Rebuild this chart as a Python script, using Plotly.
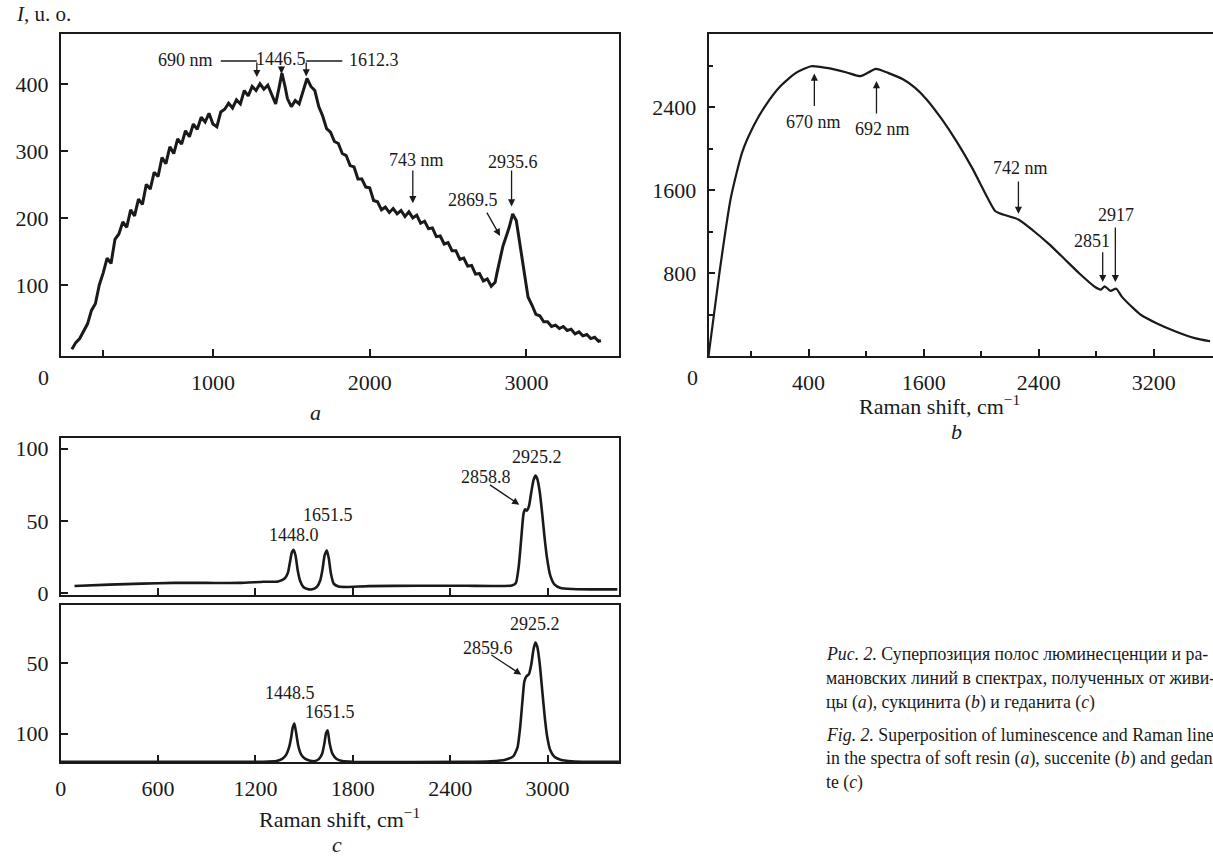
import plotly.graph_objects as go

W, H = 1213, 861
FONT = "Liberation Serif"
INK = "#1a1a1a"

# ---------------- data ----------------
# (a) soft resin: noisy luminescence + Raman spectrum
a_shift = [100, 125, 150, 175, 200, 225, 250, 275, 300, 325, 350, 375, 400, 425, 450, 475,
           500, 525, 550, 575, 600, 625, 650, 675, 700, 725, 750, 775, 800, 825, 850, 875,
           900, 925, 950, 975, 1000, 1025, 1050, 1075, 1100, 1125, 1150, 1175, 1200, 1225,
           1250, 1275, 1300, 1325, 1350, 1375, 1400, 1420, 1440, 1460, 1475, 1500, 1525,
           1550, 1575, 1600, 1625, 1650, 1675, 1700, 1725, 1750, 1775, 1800, 1825, 1850,
           1875, 1900, 1925, 1950, 1975, 2000, 2025, 2050, 2075, 2100, 2125, 2150, 2175,
           2200, 2225, 2250, 2275, 2300, 2325, 2350, 2375, 2400, 2425, 2450, 2475, 2500,
           2525, 2550, 2575, 2600, 2625, 2650, 2675, 2700, 2725, 2750, 2775, 2800, 2812,
           2825, 2850, 2870, 2890, 2912, 2935, 2960, 2985, 3010, 3035, 3060, 3085, 3110,
           3135, 3160, 3185, 3210, 3235, 3260, 3285, 3310, 3335, 3360, 3385, 3410, 3435,
           3460, 3475]
a_int = [4, 14, 20, 30, 42, 62, 72, 100, 118, 140, 132, 168, 176, 194, 186, 212,
         203, 228, 220, 250, 243, 268, 262, 290, 281, 306, 296, 318, 310, 330, 321, 340,
         332, 350, 343, 356, 340, 336, 358, 362, 371, 364, 376, 370, 390, 382,
         396, 390, 400, 392, 398, 384, 370, 392, 416, 396, 378, 366, 375,
         370, 388, 408, 396, 390, 366, 352, 333, 328, 314, 311, 296, 293,
         278, 276, 258, 258, 246, 245, 226, 224, 212, 216, 208, 214, 206,
         211, 202, 209, 200, 204, 192, 195, 184, 185, 172, 173, 161, 163,
         151, 151, 138, 140, 128, 129, 116, 117, 106, 109, 98, 104, 118,
         132, 158, 172, 186, 206, 196, 158, 118, 82, 70, 56, 54, 45,
         45, 38, 40, 35, 38, 32, 34, 27, 30, 24, 26, 20, 22,
         16, 17]

# (b) succenite
b_shift = [104, 179, 259, 339, 419, 499, 605, 712, 819, 925, 1059, 1160, 1219, 1267,
           1352, 1459, 1539, 1619, 1725, 1832, 1939, 2045, 2099, 2152, 2259, 2365, 2472,
           2579, 2685, 2792, 2832, 2859, 2899, 2939, 2979, 3059, 3112, 3219, 3352, 3485,
           3592]
b_int = [0, 794, 1525, 1971, 2225, 2416, 2607, 2734, 2798, 2782, 2740, 2702, 2740, 2772,
         2734, 2670, 2591, 2480, 2289, 2066, 1812, 1525, 1398, 1366, 1318, 1207, 1080,
         937, 794, 666, 641, 673, 628, 650, 571, 460, 396, 317, 237, 173,
         142]

# (c) gedanite, upper trace
c1_shift = [85, 300, 500, 700, 900, 1100, 1250, 1340, 1380, 1400, 1412, 1424, 1435, 1447,
            1460, 1475, 1495, 1520, 1550, 1580, 1600, 1614, 1626, 1640, 1652, 1664, 1682,
            1712, 1760, 1900, 2200, 2500, 2780, 2805, 2822, 2838, 2852, 2862, 2872, 2885,
            2900, 2913, 2925, 2937, 2952, 2967, 2982, 2997, 3017, 3042, 3080, 3150, 3300,
            3430]
c1_int = [4.9, 5.8, 6.5, 7.0, 7.0, 7.0, 7.8, 8.0, 10, 14, 21, 28, 30, 26, 16, 8.5, 4.2,
          2.8, 2.6, 4.5, 9, 17, 26, 29.5, 24, 14, 6.5, 4.5, 4.2, 4.8, 5.0, 5.0, 5.2, 7,
          18, 38, 55, 58, 57, 60, 70, 78, 81.3, 79, 70, 55, 38, 24, 12, 6, 3.5, 2.8, 2.5,
          2.5]

# (c) gedanite, lower trace
c2_shift = [0, 1250, 1330, 1365, 1390, 1407, 1420, 1430, 1440, 1451, 1464, 1482, 1507,
            1537, 1567, 1592, 1612, 1625, 1635, 1645, 1657, 1675, 1700, 1735, 1800, 2500,
            2650, 2740, 2790, 2815, 2832, 2845, 2857, 2870, 2885, 2900, 2913, 2925, 2937,
            2952, 2967, 2982, 2997, 3017, 3042, 3080, 3150, 3250, 3440]
c2_int = [0, 0, 0.5, 2, 5, 10, 17, 24, 26.7, 20, 11, 5, 2, 0.8, 0.5, 2, 6, 13, 20, 21.9,
          13, 5.5, 2, 0.5, 0, 0, 0.4, 1.5, 4, 10, 25, 42, 56, 59.6, 61, 68, 78, 83, 80,
          68, 50, 32, 18, 8, 3.5, 1.5, 0.4, 0, 0]

# tick values / labels
a_xticks = [1000, 2000, 3000]
a_xminor = [300]
a_yticks = [100, 200, 300, 400]
b_xticks = [800, 1600, 2400, 3200]
b_xticktext = ["400", "1600", "2400", "3200"]
b_xminor = [400, 1200, 2000, 2800]
b_yticks = [800, 1600, 2400]
b_yminor = [400, 1200, 2000, 2800]
c_xticks = [0, 600, 1200, 1800, 2400, 3000]
c1_yticks = [0, 50, 100]
c2_yticks = [19.7, 68.7]
c2_yticktext = ["100", "50"]


def px(x):
    return x / W


def py(y):
    return 1 - y / H


fig = go.Figure()
fig.add_trace(go.Scatter(x=a_shift, y=a_int, mode="lines", line=dict(color=INK, width=3.0),
                         xaxis="x", yaxis="y", showlegend=False))
fig.add_trace(go.Scatter(x=b_shift, y=b_int, mode="lines",
                         line=dict(color=INK, width=2.2, shape="spline", smoothing=0.6),
                         xaxis="x2", yaxis="y2", showlegend=False))
fig.add_trace(go.Scatter(x=c1_shift, y=c1_int, mode="lines",
                         line=dict(color=INK, width=2.6, shape="spline", smoothing=0.5),
                         xaxis="x3", yaxis="y3", showlegend=False))
fig.add_trace(go.Scatter(x=c2_shift, y=c2_int, mode="lines",
                         line=dict(color=INK, width=2.6, shape="spline", smoothing=0.5),
                         xaxis="x4", yaxis="y4", showlegend=False))

tickfont = dict(family=FONT, size=22, color=INK)
base = dict(showline=True, linecolor=INK, linewidth=1.6, ticks="inside", ticklen=7,
            tickwidth=1.5, tickcolor=INK, showgrid=False, zeroline=False,
            tickfont=tickfont, fixedrange=True)

fig.update_layout(
    width=W, height=H, margin=dict(l=0, r=0, t=0, b=0),
    paper_bgcolor="white", plot_bgcolor="white",
    xaxis=dict(base, domain=[px(55), px(616)], range=[29, 3590], mirror=True,
               tickmode="array", tickvals=a_xticks, ticklabelstandoff=6,
               minor=dict(tickvals=a_xminor, ticks="inside", ticklen=6, tickcolor=INK),
               anchor="y"),
    yaxis=dict(base, domain=[py(360), py(33)], range=[-6, 475], mirror=True,
               tickmode="array", tickvals=a_yticks, ticklabelstandoff=6, anchor="x"),
    xaxis2=dict(base, domain=[px(706), 1.0], range=[104, 3612], mirror=True,
                tickmode="array", tickvals=b_xticks, ticktext=b_xticktext,
                ticklabelstandoff=6,
                minor=dict(tickvals=b_xminor, ticks="inside", ticklen=5, tickcolor=INK),
                anchor="y2"),
    yaxis2=dict(base, domain=[py(360), py(33)], range=[0, 3114], mirror=False,
                tickmode="array", tickvals=b_yticks, ticklabelstandoff=6,
                minor=dict(tickvals=b_yminor, ticks="inside", ticklen=5, tickcolor=INK),
                anchor="x2"),
    xaxis3=dict(base, domain=[px(55), px(616)], range=[0, 3440], mirror=True,
                tickmode="array", tickvals=c_xticks, showticklabels=False, anchor="y3"),
    yaxis3=dict(base, domain=[py(602), py(443)], range=[-1.1, 107.5], mirror=True,
                tickmode="array", tickvals=c1_yticks, ticklabelstandoff=6, anchor="x3"),
    xaxis4=dict(base, domain=[px(55), px(616)], range=[0, 3440], mirror=True,
                tickmode="array", tickvals=c_xticks, ticklabelstandoff=6, anchor="y4"),
    yaxis4=dict(base, domain=[py(772), py(613)], range=[-0.3, 108.9], mirror=True,
                tickmode="array", tickvals=c2_yticks, ticktext=c2_yticktext,
                ticklabelstandoff=6, anchor="x4"),
)

ann = []
shapes = []


def text(t, x, y, xref, yref, size=18, xanchor="center", yanchor="middle", **kw):
    d = dict(text=t, x=x, y=y, xref=xref, yref=yref, showarrow=False,
             xanchor=xanchor, yanchor=yanchor,
             font=dict(family=FONT, size=size, color=INK))
    d.update(kw)
    ann.append(d)


def arrow(x0, y0, x1, y1, xr, yr):
    ann.append(dict(text="", x=x1, y=y1, ax=x0, ay=y0, xref=xr, yref=yr, axref=xr, ayref=yr,
                    showarrow=True, arrowhead=2, arrowsize=1.1, arrowwidth=1.3,
                    arrowcolor=INK, standoff=0, startstandoff=0))


def hline(x0, x1, y, xr, yr):
    shapes.append(dict(type="line", x0=x0, x1=x1, y0=y, y1=y, xref=xr, yref=yr,
                       line=dict(color=INK, width=1.3)))


# panel a labels
text("690 nm", 825, 435, "x", "y")
hline(1050, 1280, 434, "x", "y")
arrow(1280, 434, 1280, 410, "x", "y")
text("1446.5", 1437, 437, "x", "y")
arrow(1437, 428, 1437, 415, "x", "y")
text("1612.3", 2025, 435, "x", "y")
hline(1825, 1595, 434, "x", "y")
arrow(1595, 434, 1595, 411, "x", "y")
text("743 nm", 2300, 286, "x", "y")
arrow(2275, 273, 2275, 222, "x", "y")
text("2935.6", 2912, 283, "x", "y")
arrow(2905, 273, 2905, 217, "x", "y")
text("2869.5", 2662, 227, "x", "y")
arrow(2742, 210, 2832, 173, "x", "y")

# panel b labels
text("670 nm", 832, 2263, "x2", "y2")
arrow(840, 2400, 840, 2728, "x2", "y2")
text("692 nm", 1312, 2193, "x2", "y2")
arrow(1272, 2327, 1272, 2655, "x2", "y2")
text("742 nm", 2272, 1818, "x2", "y2")
arrow(2259, 1700, 2259, 1373, "x2", "y2")
text("2851", 2773, 1112, "x2", "y2")
arrow(2845, 1016, 2845, 714, "x2", "y2")
text("2917", 2939, 1366, "x2", "y2")
arrow(2933, 1255, 2933, 714, "x2", "y2")

# panel c upper labels
text("1651.5", 1646, 53.9, "x3", "y3")
text("1448.0", 1439, 40.2, "x3", "y3")
text("2925.2", 2935, 94.3, "x3", "y3")
text("2858.8", 2619, 80.2, "x3", "y3")
arrow(2636, 75.6, 2826, 61.2, "x3", "y3")

# panel c lower labels
text("1448.5", 1415, 48.2, "x4", "y4")
text("1651.5", 1658, 34.5, "x4", "y4")
text("2925.2", 2923, 96.1, "x4", "y4")
text("2859.6", 2633, 79, "x4", "y4")
arrow(2645, 75.1, 2838, 60.7, "x4", "y4")

# axis titles, corner zeros, panel letters
text("<i>I</i>, u. o.", px(8), py(13), "paper", "paper", size=21, xanchor="left")
text("0", px(38), py(382), "paper", "paper", size=22)
text("0", px(690), py(382), "paper", "paper", size=22)
text("<i>a</i>", px(311), py(417), "paper", "paper", size=22)
text("Raman shift, cm<sup>\u22121</sup>", px(938), py(410), "paper", "paper", size=22)
text("<i>b</i>", px(955), py(437), "paper", "paper", size=22)
text("Raman shift, cm<sup>\u22121</sup>", px(335), py(829), "paper", "paper", size=22)
text("<i>c</i>", px(333), py(855), "paper", "paper", size=22)

# caption
cap = [
    "<i>Рис. 2.</i> Суперпозиция полос люминесценции и ра-",
    "мановских линий в спектрах, полученных от живи-",
    "цы (<i>a</i>), сукцинита (<i>b</i>) и геданита (<i>c</i>)",
    "<i>Fig. 2.</i> Superposition of luminescence and Raman lines",
    "in the spectra of soft resin (<i>a</i>), succenite (<i>b</i>) and gedani-",
    "te (<i>c</i>)",
]
cap_y = [662, 687, 711, 744, 768, 793]
for t, y in zip(cap, cap_y):
    text(t, px(822), py(y), "paper", "paper", size=17.8, xanchor="left")

fig.update_layout(annotations=ann, shapes=shapes)
fig.write_html("out.html", config={"displayModeBar": False},
               post_script="document.body.style.margin='0';")
